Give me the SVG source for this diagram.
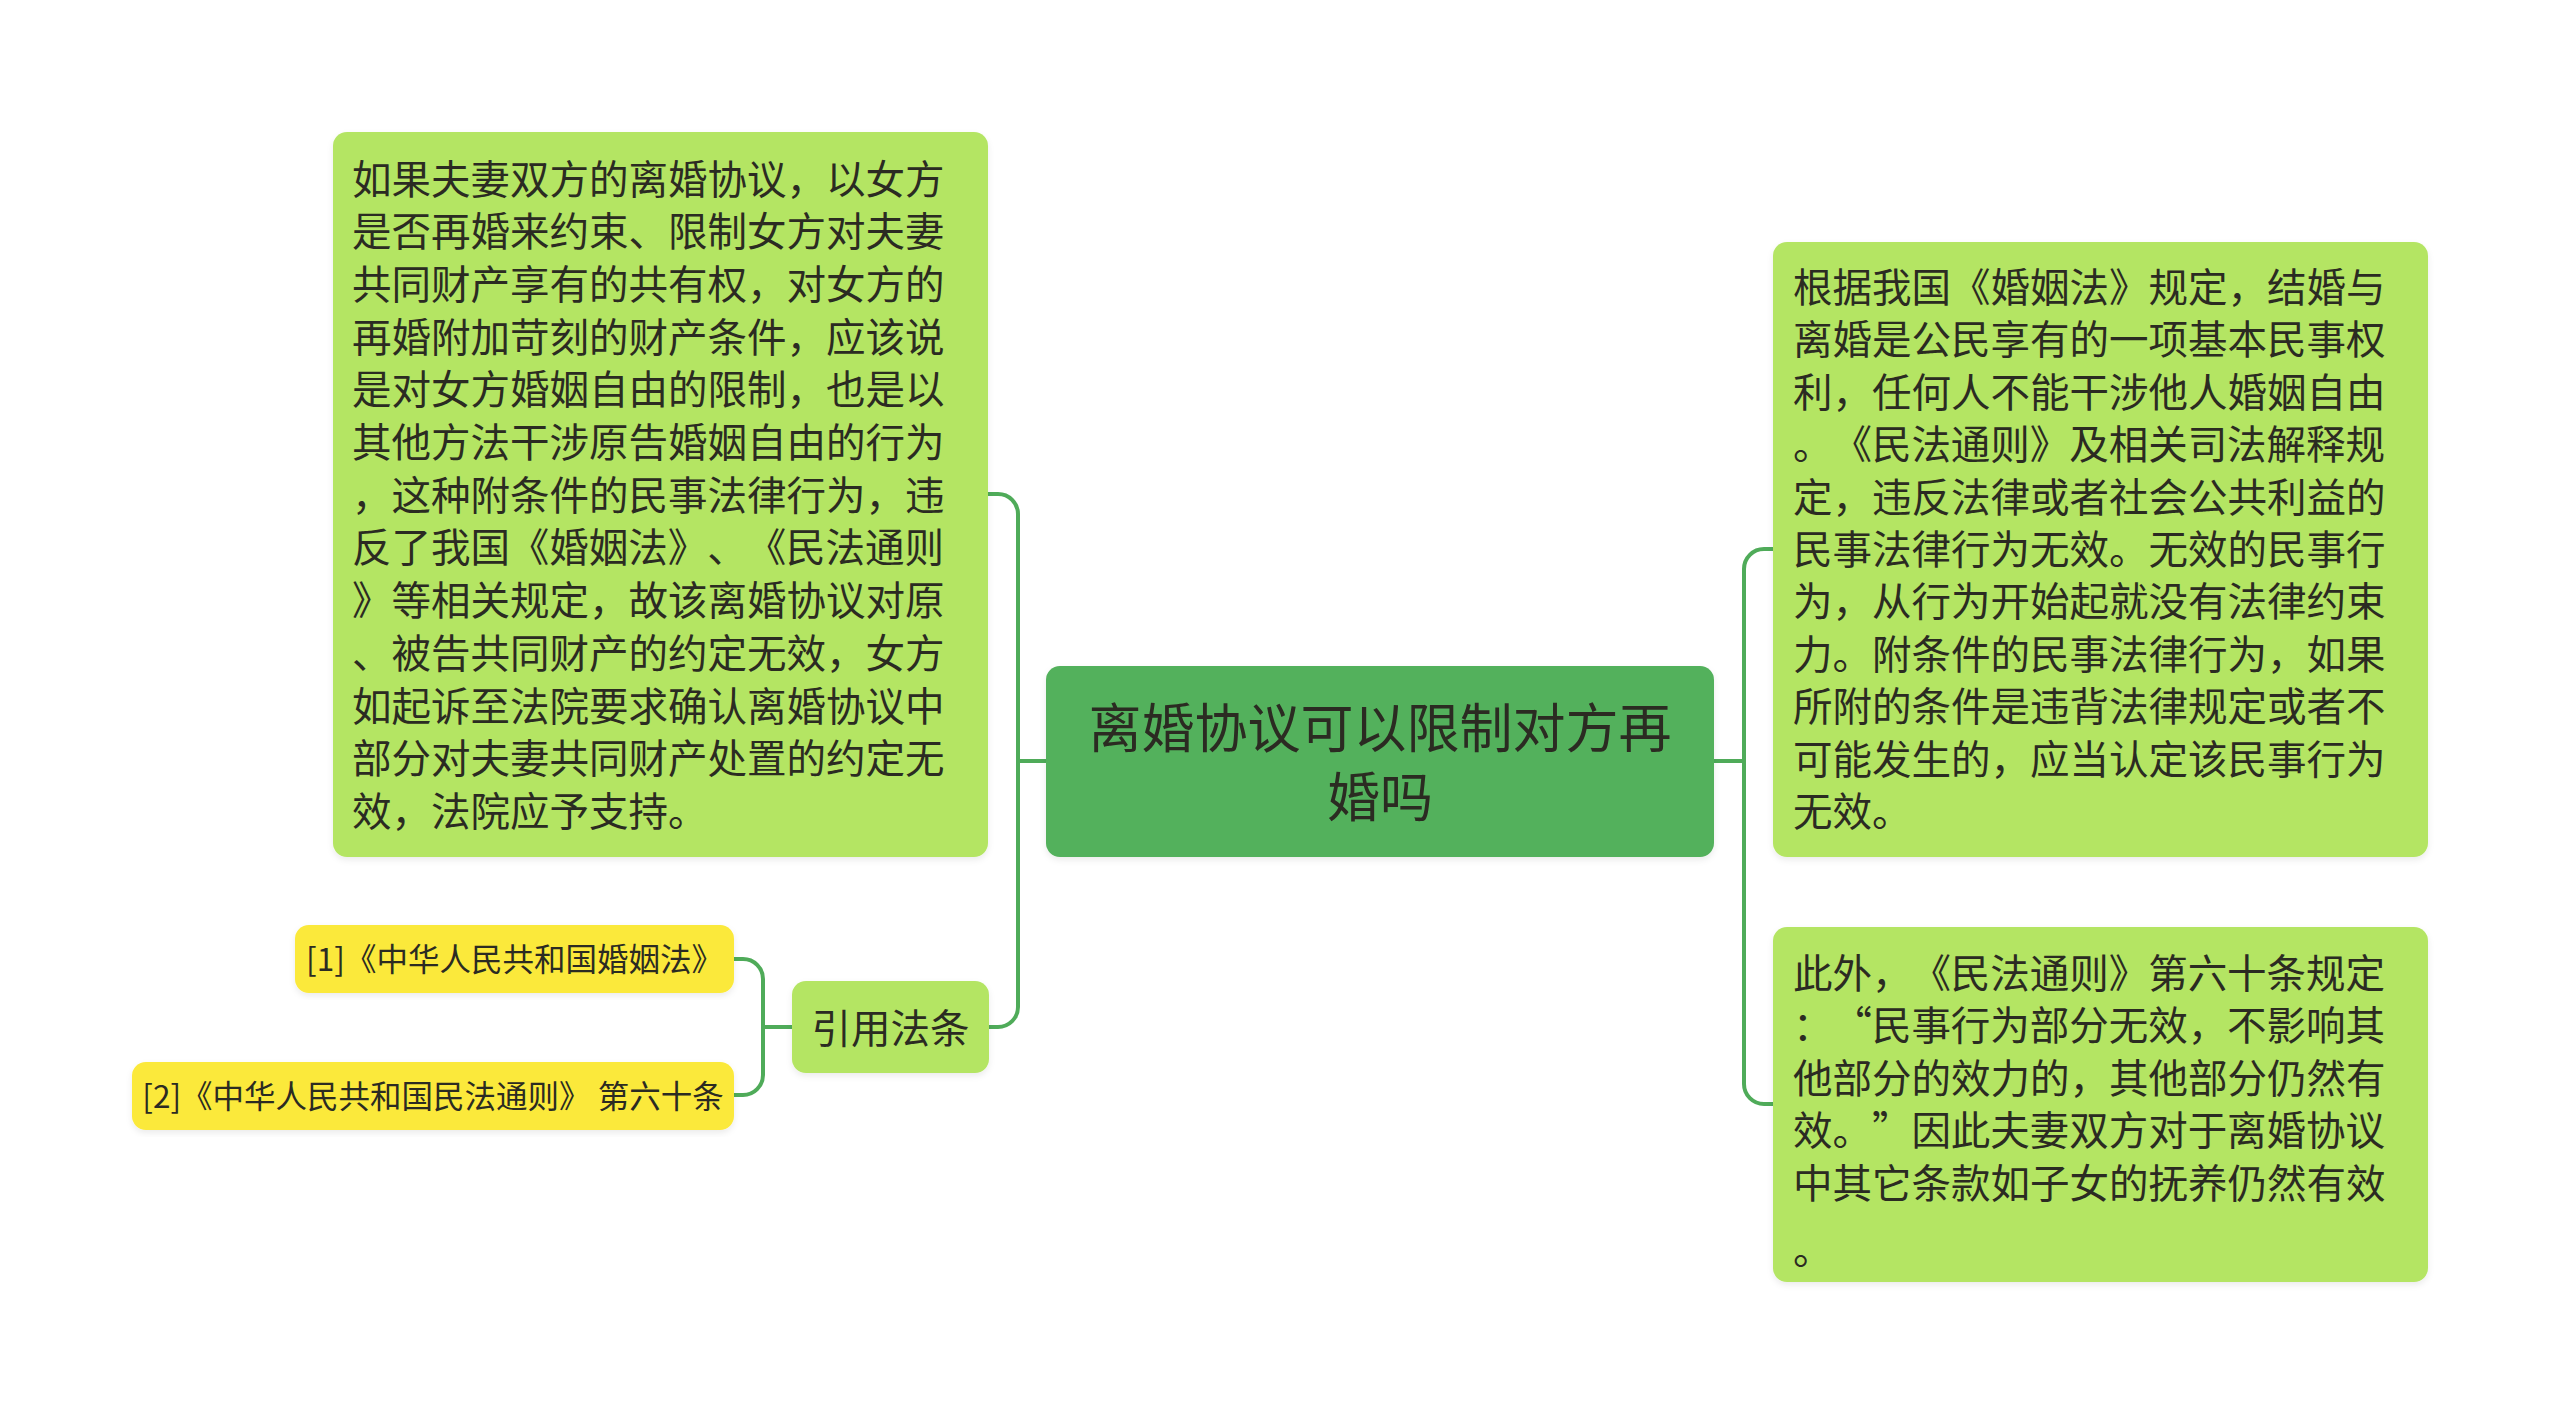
<svg xmlns="http://www.w3.org/2000/svg" width="2560" height="1415" viewBox="0 0 2560 1415">
<defs>
<style>
.bg{fill:#ffffff}
.conn{fill:none;stroke:#4fab59;stroke-width:4;stroke-linecap:round}
.leaf{fill:#b4e564}
.root{fill:#53b15c}
.ref{fill:#fbe93a}
text{font-family:"Noto Sans CJK SC","Noto Sans",sans-serif;fill:#2b2b22;dominant-baseline:central;text-spacing-trim:space-all;font-kerning:none}
.t40{font-size:39.5px}
.t53{font-size:53px}
.t31{font-size:31.5px}
</style>
<filter id="sh" x="-5%" y="-5%" width="110%" height="115%">
<feDropShadow dx="0" dy="3" stdDeviation="3" flood-color="#000" flood-opacity="0.08"/>
</filter>
</defs>
<rect class="bg" x="0" y="0" width="2560" height="1415"/>
<g id="connectors">
<path class="conn" d="M1046,761 H1018"/>
<path class="conn" d="M988,494 H998 A20,20 0 0 1 1018,514 V1007 A20,20 0 0 1 998,1027 H988"/>
<path class="conn" d="M1714,761 H1744"/>
<path class="conn" d="M1773,549 H1764 A20,20 0 0 0 1744,569 V1084 A20,20 0 0 0 1764,1104 H1773"/>
<path class="conn" d="M792,1027 H763"/>
<path class="conn" d="M734,959 H743 A20,20 0 0 1 763,979 V1075 A20,20 0 0 1 743,1095 H734"/>
</g>
<g id="root">
<rect class="root" x="1046" y="666" width="668" height="191" rx="14" filter="url(#sh)"/>
<text class="t53" x="1380" y="725" text-anchor="middle">离婚协议可以限制对方再</text>
<text class="t53" x="1380" y="794" text-anchor="middle">婚吗</text>
</g>
<g id="left-detail">
<rect class="leaf" x="333" y="132" width="655" height="725" rx="14" filter="url(#sh)"/>
<text class="t40" x="352" y="176">如果夫妻双方的离婚协议，以女方</text>
<text class="t40" x="352" y="228.7">是否再婚来约束、限制女方对夫妻</text>
<text class="t40" x="352" y="281.4">共同财产享有的共有权，对女方的</text>
<text class="t40" x="352" y="334.1">再婚附加苛刻的财产条件，应该说</text>
<text class="t40" x="352" y="386.8">是对女方婚姻自由的限制，也是以</text>
<text class="t40" x="352" y="439.5">其他方法干涉原告婚姻自由的行为</text>
<text class="t40" x="352" y="492.2">，这种附条件的民事法律行为，违</text>
<text class="t40" x="352" y="544.9" textLength="592" lengthAdjust="spacing">反了我国《婚姻法》、《民法通则</text>
<text class="t40" x="352" y="597.6">》等相关规定，故该离婚协议对原</text>
<text class="t40" x="352" y="650.3">、被告共同财产的约定无效，女方</text>
<text class="t40" x="352" y="703">如起诉至法院要求确认离婚协议中</text>
<text class="t40" x="352" y="755.7">部分对夫妻共同财产处置的约定无</text>
<text class="t40" x="352" y="808.4">效，法院应予支持。</text>
</g>
<g id="citations">
<rect class="leaf" x="792" y="981" width="197" height="92" rx="14" filter="url(#sh)"/>
<text class="t40" x="890.5" y="1025" text-anchor="middle">引用法条</text>
</g>
<g id="ref1">
<rect class="ref" x="295" y="925" width="439" height="68" rx="14" filter="url(#sh)"/>
<text class="t31" x="514.5" y="957" text-anchor="middle">[1]《中华人民共和国婚姻法》</text>
</g>
<g id="ref2">
<rect class="ref" x="132" y="1062" width="602" height="68" rx="14" filter="url(#sh)"/>
<text class="t31" x="433" y="1094" text-anchor="middle">[2]《中华人民共和国民法通则》 第六十条</text>
</g>
<g id="right-detail-1">
<rect class="leaf" x="1773" y="242" width="655" height="615" rx="14" filter="url(#sh)"/>
<text class="t40" x="1793" y="284.4">根据我国《婚姻法》规定，结婚与</text>
<text class="t40" x="1793" y="336.8">离婚是公民享有的一项基本民事权</text>
<text class="t40" x="1793" y="389.2">利，任何人不能干涉他人婚姻自由</text>
<text class="t40" x="1793" y="441.6" textLength="592" lengthAdjust="spacing">。《民法通则》及相关司法解释规</text>
<text class="t40" x="1793" y="494">定，违反法律或者社会公共利益的</text>
<text class="t40" x="1793" y="546.4">民事法律行为无效。无效的民事行</text>
<text class="t40" x="1793" y="598.8">为，从行为开始起就没有法律约束</text>
<text class="t40" x="1793" y="651.2">力。附条件的民事法律行为，如果</text>
<text class="t40" x="1793" y="703.6">所附的条件是违背法律规定或者不</text>
<text class="t40" x="1793" y="756">可能发生的，应当认定该民事行为</text>
<text class="t40" x="1793" y="808.4">无效。</text>
</g>
<g id="right-detail-2">
<rect class="leaf" x="1773" y="927" width="655" height="355" rx="14" filter="url(#sh)"/>
<text class="t40" x="1793" y="970" textLength="592" lengthAdjust="spacing">此外，《民法通则》第六十条规定</text>
<text class="t40" x="1793" y="1022.6" textLength="592" lengthAdjust="spacing">：“民事行为部分无效，不影响其</text>
<text class="t40" x="1793" y="1075.2">他部分的效力的，其他部分仍然有</text>
<text class="t40" x="1793" y="1127.8" textLength="592" lengthAdjust="spacing">效。”因此夫妻双方对于离婚协议</text>
<text class="t40" x="1793" y="1180.4">中其它条款如子女的抚养仍然有效</text>
<text class="t40" x="1793" y="1246">。</text>
</g>
</svg>
